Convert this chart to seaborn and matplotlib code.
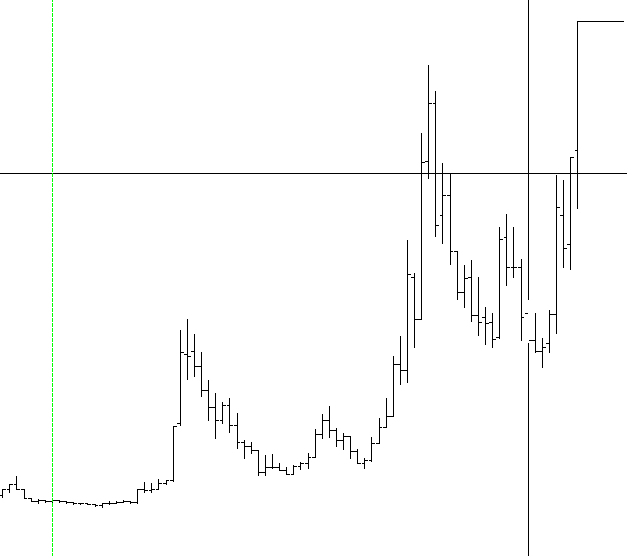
import numpy as np
import pandas as pd
import seaborn as sns
import matplotlib
matplotlib.use("Agg")
import matplotlib.pyplot as plt

# OHLC values (arbitrary price units, no axis shown)
opens = [61.0, 66.7, 72.0, 66.7, 57.7, 55.0, 56.0, 55.0, 56.0, 55.0,
         53.7, 52.7, 52.7, 52.0, 51.0, 52.7, 53.3, 54.3, 55.0, 53.7,
         67.0, 66.0, 66.7, 72.7, 76.0, 132.7, 202.0, 205.0, 190.0, 166.0,
         148.7, 136.0, 150.7, 130.7, 114.5, 110.3, 106.5, 84.0, 88.7, 89.0,
         86.0, 81.7, 90.3, 93.5, 98.7, 122.0, 136.0, 126.5, 115.7, 120.0,
         105.3, 93.5, 96.0, 113.0, 129.3, 140.5, 191.7, 185.7, 278.7, 237.2,
         395.0, 453.0, 340.7, 360.7, 305.0, 263.7, 279.0, 241.0, 238.7, 234.3,
         219.0, 318.7, 288.7, 289.3, 242.7, 216.0, 205.3, 212.7, 241.7, 341.0,
         311.7, 406.0]
highs = [66.7, 72.0, 80.3, 66.7, 57.7, 57.0, 56.0, 56.5, 56.0, 55.5,
         53.7, 53.0, 52.7, 52.0, 53.3, 55.3, 54.7, 55.7, 55.3, 67.0,
         73.7, 72.7, 76.7, 76.0, 130.0, 226.0, 236.7, 222.0, 204.0, 176.0,
         162.7, 153.7, 157.7, 142.7, 116.0, 114.5, 106.5, 101.0, 101.7, 93.5,
         89.5, 91.3, 94.0, 103.0, 126.8, 142.0, 150.0, 127.7, 123.5, 120.5,
         106.8, 97.7, 119.5, 137.7, 157.7, 200.0, 220.0, 316.0, 283.0, 423.0,
         491.0, 465.0, 392.7, 383.5, 305.0, 291.0, 296.0, 278.7, 249.0, 243.3,
         329.0, 342.0, 329.0, 296.7, 256.5, 242.7, 217.7, 246.0, 381.0, 376.0,
         398.7, 534.7]
lows = [59.3, 64.3, 66.7, 57.7, 55.0, 52.7, 54.0, 54.0, 54.5, 53.5,
        52.5, 52.3, 51.7, 50.5, 49.3, 52.0, 53.0, 54.0, 53.3, 53.3,
        64.3, 64.3, 66.7, 72.0, 75.3, 131.0, 176.7, 180.3, 160.3, 136.0,
        118.5, 132.7, 124.3, 107.7, 98.5, 103.5, 81.5, 81.5, 88.0, 86.0,
        81.7, 81.7, 87.5, 88.0, 98.7, 117.7, 119.5, 110.5, 107.0, 97.7,
        93.0, 87.7, 95.0, 113.0, 129.0, 140.0, 171.7, 174.3, 209.5, 237.2,
        377.7, 320.3, 312.7, 291.7, 256.7, 248.7, 235.3, 221.5, 212.5, 209.3,
        217.7, 271.0, 279.3, 215.7, 214.5, 203.7, 189.3, 203.7, 222.7, 289.3,
        286.7, 347.7]
closes = [66.7, 72.0, 66.7, 57.7, 55.0, 56.0, 55.0, 56.0, 55.0, 53.7,
          52.7, 52.7, 52.0, 51.0, 52.7, 53.3, 54.3, 55.0, 53.7, 67.0,
          66.0, 66.7, 72.7, 76.0, 130.0, 203.7, 200.0, 190.0, 166.0, 148.7,
          136.0, 150.7, 130.7, 114.0, 110.3, 106.5, 84.0, 88.7, 89.0, 86.0,
          81.7, 90.3, 93.5, 98.7, 122.0, 136.0, 126.5, 115.7, 120.0, 105.3,
          93.5, 96.0, 113.0, 129.3, 140.5, 191.7, 185.7, 281.8, 237.2, 394.0,
          453.0, 331.0, 360.7, 305.0, 263.7, 278.0, 241.0, 234.3, 233.3, 217.0,
          317.0, 288.7, 288.7, 238.7, 216.0, 205.3, 209.0, 241.7, 348.7, 307.7,
          398.7, 534.7]

cross_price = 383.0   # horizontal crosshair level
cross_bar = 74        # bar under the vertical crosshair
marker_bar = 7        # green dotted vertical marker

df = pd.DataFrame({"open": opens, "high": highs, "low": lows, "close": closes})
df["bar"] = np.arange(len(df))
n = len(df)
tick = 0.4

sns.set_theme(style="white")
fig = plt.figure(figsize=(6.27, 5.56), dpi=100, facecolor="white")
ax = fig.add_axes([0, 0, 1, 1])
ax.set_facecolor("white")

px = 0.72  # one pixel in points

# crosshair
ax.axhline(cross_price, color="black", lw=px, antialiased=False, zorder=2)
ax.axvline(cross_bar, color="black", lw=px, antialiased=False, zorder=2)

# ohlc bars
ax.vlines(df["bar"], df["low"], df["high"], color="black", lw=px,
          antialiased=False, zorder=3)
ax.hlines(df["open"], df["bar"] - tick, df["bar"], color="black", lw=px,
          antialiased=False, zorder=3)
ax.hlines(df["close"], df["bar"], df["bar"] + tick, color="black", lw=px,
          antialiased=False, zorder=3)

# last close carried to the right edge
last = df.iloc[-1]
ax.hlines(last["close"], last["bar"], last["bar"] + 6.4, color="black", lw=px,
          antialiased=False, zorder=3)

# crosshair is xor-drawn: where it overlaps black it turns white
cb = df.iloc[cross_bar]
ax.vlines(cb["bar"], cb["low"], cb["high"], color="white", lw=px,
          antialiased=False, zorder=4)
hit = df[(df["low"] <= cross_price) & (df["high"] >= cross_price)]
xs = list(hit["bar"]) + [cross_bar]
ax.scatter(xs, [cross_price] * len(xs), marker="s", s=0.5, color="white",
           linewidths=0, zorder=5)

# green dotted marker line
ax.axvline(marker_bar, color="#00ff00", lw=px, ls=(0, (3, 2)),
           antialiased=False, zorder=6)

ax.set_xlim(-0.32, n - 1 + 6.99)
ax.set_ylim(0, 556)
ax.axis("off")

fig.savefig("out.png", dpi=100, facecolor="white")
